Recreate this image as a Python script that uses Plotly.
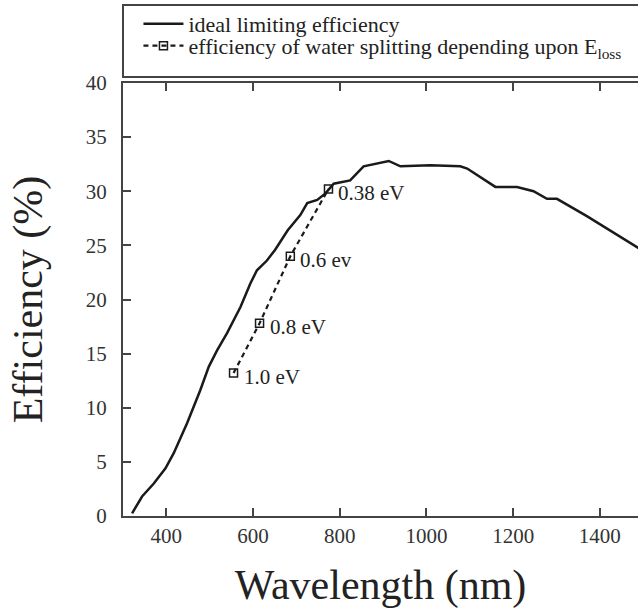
import plotly.graph_objects as go

# Ideal limiting efficiency curve (wavelength nm, efficiency %)
ideal_wavelength = [321, 344, 371, 398, 417, 448, 478, 498, 517, 540, 571, 594, 609, 632, 651,
                    680, 709, 725, 748, 767, 786, 824, 855, 886, 913, 940, 1009, 1078, 1094,
                    1159, 1209, 1247, 1278, 1301, 1370, 1495]
ideal_efficiency = [0.25, 1.8, 3.0, 4.4, 5.8, 8.6, 11.6, 13.8, 15.3, 16.9, 19.3, 21.5, 22.7, 23.6, 24.6,
                    26.4, 27.8, 28.9, 29.2, 29.8, 30.7, 31.0, 32.3, 32.6, 32.8, 32.3, 32.4, 32.3, 32.1,
                    30.4, 30.4, 30.0, 29.3, 29.3, 27.7, 24.6]

# Water-splitting efficiency depending on E_loss
split_wavelength = [555, 615, 686, 774]
split_efficiency = [13.2, 17.8, 24.0, 30.2]
split_labels = ["1.0 eV", "0.8 eV", "0.6 ev", "0.38 eV"]

x_ticks = [400, 600, 800, 1000, 1200, 1400]
y_ticks = [0, 5, 10, 15, 20, 25, 30, 35, 40]

FONT = "Liberation Serif"
INK = "#222222"
AXIS = "#444444"

fig = go.Figure()
fig.add_trace(go.Scatter(
    x=ideal_wavelength, y=ideal_efficiency, mode="lines",
    name="ideal limiting efficiency",
    line=dict(color="#1a1a1a", width=2.5),
    legend="legend",
))
fig.add_trace(go.Scatter(
    x=split_wavelength, y=split_efficiency, mode="lines+markers",
    name="efficiency of water splitting depending upon E<sub>loss</sub>",
    line=dict(color="#1a1a1a", width=2.2, dash="5px,4px"),
    marker=dict(symbol="square-open", size=8, color="#1a1a1a", line=dict(width=1.5)),
    legend="legend2",
))

for xv, yv, lab in zip(split_wavelength, split_efficiency, split_labels):
    fig.add_annotation(x=xv, y=yv, text=lab, showarrow=False, xanchor="left", yanchor="middle",
                       xshift=8, yshift=-4, font=dict(family=FONT, size=21, color=INK))

# legend frame
fig.add_shape(type="rect", xref="paper", yref="paper", x0=0, x1=1.05, y0=1.0139, y1=1.180,
              line=dict(color=AXIS, width=2), fillcolor="rgba(0,0,0,0)")

fig.update_layout(
    width=638, height=611,
    margin=dict(l=123, r=0, t=83, b=95, autoexpand=False),
    paper_bgcolor="white", plot_bgcolor="white",
    font=dict(family=FONT, color=INK),
    legend=dict(x=0.03, y=1.1365, xanchor="left", yanchor="middle", bgcolor="rgba(0,0,0,0)",
                font=dict(family=FONT, size=22, color=INK), itemwidth=40),
    legend2=dict(x=0.03, y=1.0858, xanchor="left", yanchor="middle", bgcolor="rgba(0,0,0,0)",
                 font=dict(family=FONT, size=22, color=INK), itemwidth=40),
    showlegend=True,
)
fig.update_xaxes(
    range=[300, 1488], tickvals=x_ticks, ticktext=[str(v) for v in x_ticks],
    ticks="inside", ticklen=8, tickwidth=2, tickcolor=AXIS,
    showline=True, linecolor=AXIS, linewidth=2, mirror="ticks",
    showgrid=False, zeroline=False,
    tickfont=dict(family=FONT, size=21, color="#333333"),
    title=dict(text="Wavelength (nm)", font=dict(family=FONT, size=42, color=INK), standoff=22),
)
fig.update_yaxes(
    range=[0, 40], tickvals=y_ticks, ticktext=[str(v) for v in y_ticks],
    ticks="inside", ticklen=8, tickwidth=2, tickcolor=AXIS,
    showline=True, linecolor=AXIS, linewidth=2,
    showgrid=False, zeroline=False, ticklabelstandoff=10,
    tickfont=dict(family=FONT, size=21, color="#333333"),
    title=dict(text="Efficiency (%)", font=dict(family=FONT, size=42, color=INK), standoff=30),
)

fig.write_html("out.html", config={"displayModeBar": False},
               post_script="document.body.style.margin='0px';")
